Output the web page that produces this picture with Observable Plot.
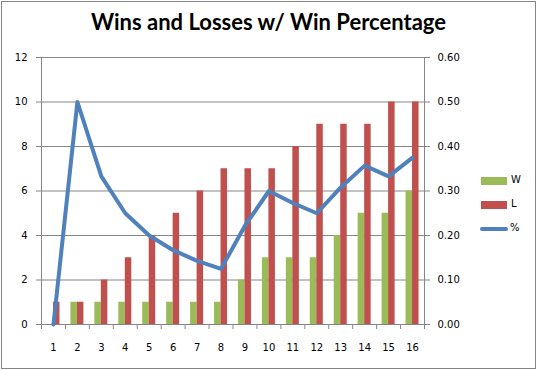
<!DOCTYPE html>
<html>
<head>
<meta charset="utf-8">
<script src="https://cdn.jsdelivr.net/npm/d3@7"></script>
<script src="https://cdn.jsdelivr.net/npm/@observablehq/plot@0.6"></script>
<style>
  html, body { margin: 0; padding: 0; background: #fff; }
  #chart { position: relative; width: 537px; height: 370px; overflow: hidden; }
  #frame { position: absolute; left: 1px; top: 1px; width: 533px; height: 366px; border: 1px solid #868686; }
  #title { position: absolute; left: 0; width: 537px; top: 8px; text-align: center;
           font-family: Lato, "Open Sans", sans-serif; font-weight: bold; font-size: 22px; color: #000; }
  .leg { position: absolute; font-family: "DejaVu Sans", sans-serif; font-size: 10px; color: #000; }
  svg { position: absolute; left: 0; top: 0; }
</style>
</head>
<body>
<div id="chart">
  <div id="frame"></div>
  <div id="title">Wins and Losses w/ Win Percentage</div>
</div>
<script>
const games = [1,2,3,4,5,6,7,8,9,10,11,12,13,14,15,16];
const wins = [0,1,1,1,1,1,1,1,2,3,3,3,4,5,5,6];
const losses = [1,1,2,3,4,5,6,7,7,7,8,9,9,9,10,10];
const winPct = [0,0.50,0.333,0.25,0.20,0.167,0.143,0.125,0.222,0.30,0.273,0.25,0.308,0.357,0.333,0.375];
const leftTicks = [0,2,4,6,8,10,12];
const rightTickLabels = ["0.00","0.10","0.20","0.30","0.40","0.50","0.60"];
const seriesNames = ["W","L","%"];
const colors = ["#9BBB59","#C0504D","#4F81BD"];

const yMax = 12, pctMax = 0.6, factor = yMax / pctMax;
const W = 537, H = 370;
const mL = 41, mR = 113, mT = 57, mB = 46;
const bw = (W - mL - mR) / games.length;
const barW = 6.5;

const winData = games.map((g,i) => ({game: g, value: wins[i]}));
const lossData = games.map((g,i) => ({game: g, value: losses[i]}));
const pctData = games.map((g,i) => ({game: g, value: winPct[i] * factor}));
const gridCol = "#868686";
const tickLen = 5 / ((H - mT - mB) / yMax);

const plot = Plot.plot({
  width: W, height: H,
  marginLeft: mL, marginRight: mR, marginTop: mT, marginBottom: mB,
  style: {fontFamily: "DejaVu Sans, sans-serif", fontSize: "10px", color: "#000", background: "transparent", overflow: "visible"},
  x: {type: "band", domain: games, paddingInner: 0, paddingOuter: 0, round: false},
  y: {domain: [0, yMax]},
  marks: [
    Plot.gridY(leftTicks, {stroke: gridCol, strokeOpacity: 1}),
    Plot.barY(winData, {x: "game", y: "value", fill: colors[0], insetLeft: bw/2 - barW, insetRight: bw/2}),
    Plot.barY(lossData, {x: "game", y: "value", fill: colors[1], insetLeft: bw/2, insetRight: bw/2 - barW}),
    Plot.ruleX(games, {x: d => d, y1: 0, y2: -tickLen, dx: -bw/2, stroke: gridCol}),
    Plot.ruleX([games[games.length-1]], {x: d => d, y1: 0, y2: -tickLen, dx: bw/2, stroke: gridCol}),
    Plot.frame({stroke: gridCol}),
    Plot.axisY(leftTicks, {anchor: "left", tickSize: 5, tickPadding: 9, stroke: gridCol, fill: "#000", label: null}),
    Plot.axisY(leftTicks, {anchor: "right", tickSize: 5, tickPadding: 8, stroke: gridCol, fill: "#000", label: null,
      tickFormat: d => rightTickLabels[leftTicks.indexOf(d)]}),
    Plot.axisX({tickSize: 0, tickPadding: 19, fill: "#000", label: null}),
    Plot.line(pctData, {x: "game", y: "value", stroke: colors[2], strokeWidth: 4, strokeLinejoin: "round", strokeLinecap: "round"})
  ]
});
const chart = document.getElementById("chart");
chart.appendChild(plot);

// legend
const legY = [181, 205, 229];
seriesNames.forEach((name, i) => {
  const sw = document.createElement("div");
  sw.className = "leg";
  if (i < 2) {
    Object.assign(sw.style, {left: "481px", top: (legY[i] - 4) + "px", width: "26px", height: "8px", background: colors[i]});
  } else {
    Object.assign(sw.style, {left: "480px", top: (legY[i] - 2) + "px", width: "28px", height: "4px", background: colors[i], borderRadius: "2px"});
  }
  chart.appendChild(sw);
  const lb = document.createElement("div");
  lb.className = "leg";
  lb.textContent = name;
  Object.assign(lb.style, {left: (i < 2 ? 511 : 510) + "px", top: (legY[i] - 7) + "px"});
  chart.appendChild(lb);
});
</script>
</body>
</html>
